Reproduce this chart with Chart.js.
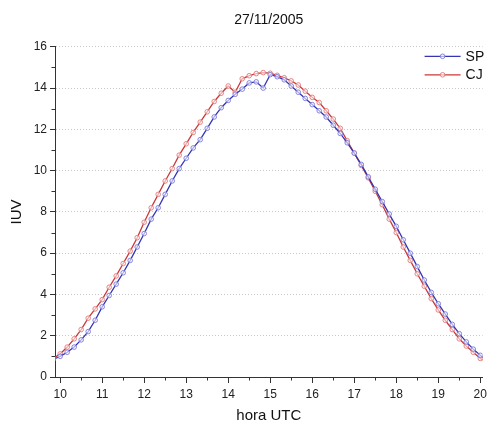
<!DOCTYPE html>
<html>
<head>
<meta charset="utf-8">
<script src="https://cdn.jsdelivr.net/npm/chart.js@4.4.1/dist/chart.umd.min.js"></script>
<style>
    html, body { margin: 0; padding: 0; background: #fff; }
    #wrap { width: 491px; height: 423px; }
</style>
</head>
<body>
<div id="wrap"><canvas id="uvChart"></canvas></div>
<script>
// horários das medições (UTC, a cada 10 min)
const horas = [
    '09:50', '10:00', '10:10', '10:20', '10:30', '10:40', '10:50',
    '11:00', '11:10', '11:20', '11:30', '11:40', '11:50',
    '12:00', '12:10', '12:20', '12:30', '12:40', '12:50',
    '13:00', '13:10', '13:20', '13:30', '13:40', '13:50',
    '14:00', '14:10', '14:20', '14:30', '14:40', '14:50',
    '15:00', '15:10', '15:20', '15:30', '15:40', '15:50',
    '16:00', '16:10', '16:20', '16:30', '16:40', '16:50',
    '17:00', '17:10', '17:20', '17:30', '17:40', '17:50',
    '18:00', '18:10', '18:20', '18:30', '18:40', '18:50',
    '19:00', '19:10', '19:20', '19:30', '19:40', '19:50',
    '20:00', '20:10'
];

// IUV - São Paulo
const iuvSP = [
    0.85, 1.0, 1.2, 1.45, 1.8, 2.2, 2.75,
    3.4, 3.95, 4.5, 5.05, 5.65, 6.3,
    6.95, 7.65, 8.2, 8.85, 9.5, 10.1,
    10.6, 11.1, 11.5, 12.05, 12.6, 13.05,
    13.4, 13.7, 13.95, 14.25, 14.3, 14.0,
    14.65, 14.55, 14.4, 14.1, 13.8, 13.5,
    13.2, 12.9, 12.6, 12.2, 11.8, 11.35,
    10.85, 10.3, 9.7, 9.1, 8.5, 7.9,
    7.3, 6.65, 6.0, 5.35, 4.7, 4.1,
    3.55, 3.05, 2.55, 2.1, 1.7, 1.35,
    1.05, 0.8
];

// IUV - Cachoeira Paulista
const iuvCJ = [
    0.9, 1.12, 1.45, 1.85, 2.3, 2.85, 3.3,
    3.75, 4.35, 4.9, 5.5, 6.1, 6.75,
    7.5, 8.2, 8.85, 9.5, 10.1, 10.75,
    11.3, 11.85, 12.35, 12.85, 13.35, 13.75,
    14.1, 13.8, 14.45, 14.6, 14.7, 14.75,
    14.72, 14.62, 14.5, 14.35, 14.15, 13.85,
    13.55, 13.3, 12.9, 12.5, 12.05, 11.45,
    10.85, 10.25, 9.65, 9.0, 8.35, 7.65,
    7.0, 6.3, 5.65, 5.0, 4.4, 3.8,
    3.25, 2.75, 2.3, 1.85, 1.5, 1.2,
    0.9, 0.7
];

const xTicks = [10, 11, 12, 13, 14, 15, 16, 17, 18, 19, 20];
const yTicks = [0, 2, 4, 6, 8, 10, 12, 14, 16];

const FONT = '"Liberation Sans", Arial, sans-serif';

function horaDecimal(h) {
    const [hh, mm] = h.split(':').map(Number);
    return hh + mm / 60;
}

function pontos(valores) {
    return horas.map((h, i) => ({ x: horaDecimal(h), y: valores[i] }));
}

/**
 * marcas secundárias dos eixos (meia hora / 1 unidade)
 */
const minorTicks = {
    id: 'minorTicks',
    afterDraw(chart) {
        const { ctx, scales } = chart;
        const xs = scales.x;
        const ys = scales.y;
        ctx.save();
        ctx.strokeStyle = '#333';
        ctx.lineWidth = 1;
        ctx.beginPath();
        xTicks.slice(0, -1).forEach((t) => {
            const px = Math.round(xs.getPixelForValue(t + 0.5)) + 0.5;
            ctx.moveTo(px, xs.top);
            ctx.lineTo(px, xs.top + 3.5);
        });
        yTicks.slice(0, -1).forEach((t) => {
            const py = Math.round(ys.getPixelForValue(t + 1)) + 0.5;
            ctx.moveTo(ys.right, py);
            ctx.lineTo(ys.right - 3.5, py);
        });
        ctx.stroke();
        ctx.restore();
    },
};

/**
 * legenda dentro da área do gráfico (canto superior direito)
 */
const insideLegend = {
    id: 'insideLegend',
    afterDraw(chart) {
        const { ctx, chartArea } = chart;
        const x0 = chartArea.right - 58;
        ctx.save();
        chart.data.datasets.forEach((ds, i) => {
            const y = chartArea.top + 9.5 + i * 18.5;
            ctx.strokeStyle = ds.borderColor;
            ctx.lineWidth = 1.3;
            ctx.beginPath();
            ctx.moveTo(x0, y);
            ctx.lineTo(x0 + 36, y);
            ctx.stroke();
            ctx.beginPath();
            ctx.arc(x0 + 18, y, 2.3, 0, Math.PI * 2);
            ctx.fillStyle = ds.pointBackgroundColor;
            ctx.fill();
            ctx.strokeStyle = ds.pointBorderColor;
            ctx.lineWidth = 1;
            ctx.stroke();
            ctx.fillStyle = '#111';
            ctx.font = '14px ' + FONT;
            ctx.textBaseline = 'middle';
            ctx.fillText(ds.label, x0 + 41, y + 0.5);
        });
        ctx.restore();
    },
};

new Chart(document.getElementById('uvChart'), {
    type: 'line',
    data: {
        datasets: [
            {
                label: 'SP',
                data: pontos(iuvSP),
                borderColor: '#3434b4',
                borderWidth: 1.3,
                pointRadius: 2.3,
                pointBorderWidth: 1,
                pointBorderColor: 'rgba(125,125,220,0.95)',
                pointBackgroundColor: 'rgba(255,255,255,0.6)',
                tension: 0,
            },
            {
                label: 'CJ',
                data: pontos(iuvCJ),
                borderColor: '#cc3838',
                borderWidth: 1.3,
                pointRadius: 2.3,
                pointBorderWidth: 1,
                pointBorderColor: 'rgba(228,125,125,0.95)',
                pointBackgroundColor: 'rgba(255,255,255,0.6)',
                tension: 0,
            },
        ],
    },
    options: {
        responsive: true,
        maintainAspectRatio: false,
        animation: false,
        layout: {
            padding: { left: 8, right: 5, top: 6, bottom: 0 },
        },
        plugins: {
            legend: { display: false },
            tooltip: { enabled: false },
            title: {
                display: true,
                text: '27/11/2005',
                fullSize: false,
                color: '#111',
                font: { family: FONT, size: 14, weight: 'normal' },
                padding: { top: 6, bottom: 18 },
            },
        },
        scales: {
            x: {
                type: 'linear',
                min: 9.877,
                max: 20.055,
                afterBuildTicks: (scale) => {
                    scale.ticks = xTicks.map((v) => ({ value: v }));
                },
                afterFit: (scale) => {
                    scale.height = 46;
                },
                ticks: {
                    color: '#222',
                    padding: 4,
                    maxRotation: 0,
                    font: { family: FONT, size: 12 },
                },
                grid: {
                    drawOnChartArea: false,
                    drawTicks: true,
                    tickLength: 6,
                    tickColor: '#333',
                },
                border: { color: '#333', width: 1 },
                title: {
                    display: true,
                    text: 'hora UTC',
                    color: '#111',
                    font: { family: FONT, size: 15, lineHeight: 1 },
                    padding: { top: 0, bottom: 0 },
                },
            },
            y: {
                min: 0,
                max: 16,
                afterBuildTicks: (scale) => {
                    scale.ticks = yTicks.map((v) => ({ value: v }));
                },
                afterFit: (scale) => {
                    scale.width = 47;
                },
                ticks: {
                    color: '#222',
                    padding: 3,
                    font: { family: FONT, size: 12 },
                },
                grid: {
                    color: (c) => (c.tick && c.tick.value > 0 ? '#c8c8c8' : 'rgba(0,0,0,0)'),
                    lineWidth: 1,
                    drawTicks: true,
                    tickLength: 5,
                    tickColor: '#333',
                },
                border: { color: '#333', width: 1, dash: [1, 2] },
                title: {
                    display: true,
                    text: 'IUV',
                    color: '#111',
                    font: { family: FONT, size: 15, lineHeight: 1.2 },
                    padding: { top: 0, bottom: 0 },
                },
            },
        },
    },
    plugins: [minorTicks, insideLegend],
});
</script>
</body>
</html>
